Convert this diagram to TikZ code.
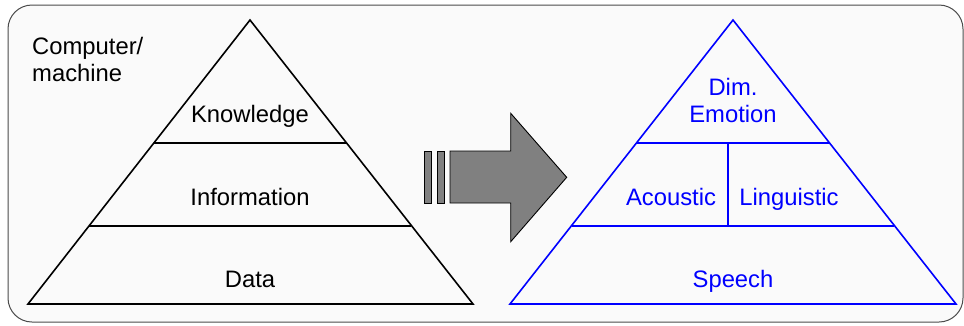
\documentclass[tikz,border=0pt]{standalone}
\usepackage{fontspec}
\setmainfont{Liberation Sans}
\begin{document}
\begin{tikzpicture}[x=1pt,y=-1pt,
  blk/.style={draw=black,line width=1.6pt,line join=miter},
  blu/.style={draw=blue,line width=1.6pt,line join=miter},
  lbl/.style={font=\fontsize{23.8}{27}\selectfont,anchor=base,inner sep=0pt,align=center},
  lblb/.style={lbl,text=blue},
  arr/.style={fill=black!50,draw=black,line width=0.9pt}]
\useasboundingbox (0,0) rectangle (964,325);
\fill[white] (0,0) rectangle (964,325);
\draw[rounded corners=24pt,fill=black!2,draw=black!70,line width=1pt] (8,5) rectangle (963,322);
% left pyramid
\coordinate (LA) at (250,20);
\coordinate (LL) at (28,304);
\coordinate (LR) at (473,304);
\path[blk] (LA) -- (LL) -- (LR) -- cycle;
\draw[blk] (153.8,143) -- (346.2,143);
\draw[blk] (89,226) -- (411,226);
\node[lbl] (know) at (250,122) {Knowledge};
\node[lbl] (info) at (250,205) {Information};
\node[lbl] (data) at (250,287) {Data};
\node[lbl,align=left,anchor=base west] (comp) at (32,81) {Computer/\\machine};
% arrow
\draw[arr] (424,151) rectangle (431.3,203);
\draw[arr] (437,151) rectangle (444.3,203);
\draw[arr] (450,151) -- (510.7,151) -- (510.7,113.3) -- (566.7,177.3) -- (510.7,241.7) -- (510.7,203) -- (450,203) -- cycle;
% right pyramid
\coordinate (RA) at (733,20);
\coordinate (RL) at (510,304);
\coordinate (RR) at (956,304);
\path[blu] (RA) -- (RL) -- (RR) -- cycle;
\draw[blu] (637.2,143) -- (828.8,143);
\draw[blu] (571.7,226) -- (894.3,226);
\draw[blu] (728,143) -- (728,226);
\node[lblb] (dim) at (733,122) {Dim.\\Emotion};
\node[lblb] (aco) at (671,205) {Acoustic};
\node[lblb] (lin) at (789,205) {Linguistic};
\node[lblb] (spe) at (733,287) {Speech};
\end{tikzpicture}
\end{document}
